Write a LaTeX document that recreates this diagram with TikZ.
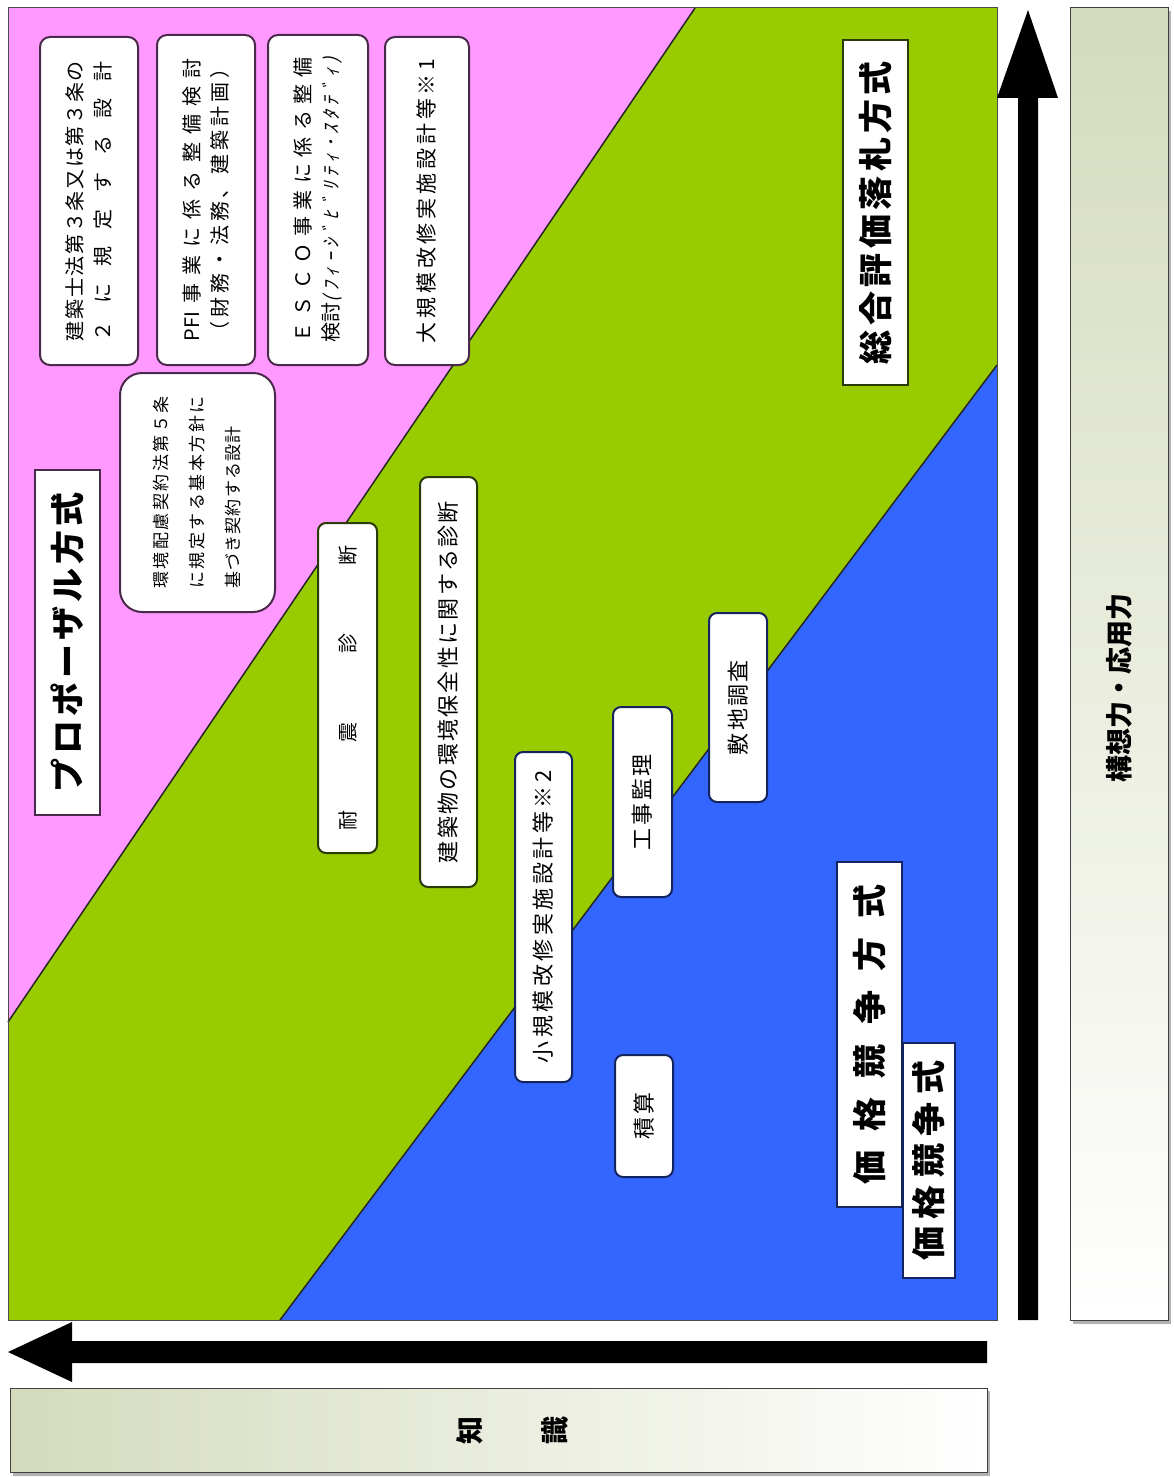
\documentclass[tikz,border=0pt]{standalone}
\usepackage{fontspec}
\setmainfont{Noto Sans CJK JP}
\newfontfamily\cjkslant[FakeSlant=0.25,LetterSpace=25]{Noto Sans CJK JP}
\definecolor{pinkbg}{HTML}{FF99FF}
\definecolor{greenbg}{HTML}{99CC00}
\definecolor{bluebg}{HTML}{3366FF}
\definecolor{pinkdk}{HTML}{4A2A4A}
\definecolor{greendk}{HTML}{2A3A08}
\definecolor{bluedk}{HTML}{14245E}
\definecolor{olive}{RGB}{212,219,188}
\makeatletter
\def\spreadchars#1{\spread@loop#1\spread@end}
\def\spread@loop#1#2\spread@end{#1\if\relax\detokenize{#2}\relax\else\hfil\spread@loop#2\spread@end\fi}
\makeatother
\newcommand\jline[2]{\makebox[#1][s]{\spreadchars{#2}}}
\tikzset{
  rbox/.style={draw=#1, line width=2pt, fill=white, rounded corners=10pt, rotate=90,
    inner sep=0pt, align=center, font=\fontsize{20}{28}\selectfont},
  lbox/.style={draw=#1, line width=1.5pt, fill=white, rotate=90,
    inner sep=0pt, align=center, font=\bfseries\fontsize{34}{40}\selectfont},
  bigarrow/.style={fill=black},
  gbox/.style={draw=black!75, line width=1pt},
  gshadow/.style={fill=black!30}
}
\begin{document}
\begin{tikzpicture}[x=1pt,y=-1pt]
\useasboundingbox (0,0) rectangle (1173,1477);
\fill[white] (0,0) rectangle (1173,1477);
% background regions
\fill[pinkbg] (8,8) rectangle (997,1320);
\fill[greenbg] (695,8) -- (997,8) -- (997,365) -- (280,1320) -- (8,1320) -- (8,1022) -- cycle;
\fill[bluebg] (997,365) -- (997,1320) -- (280,1320) -- cycle;
\draw[line width=1.5pt, black!85] (695,8) -- (8,1022);
\draw[line width=1.5pt, black!85] (997,365) -- (280,1320);
\draw[line width=1pt, black!70] (8,8) rectangle (997,1320);

% arrows
\fill[bigarrow] (1018,1320) -- (1018,98) -- (997,98) -- (1028,10) -- (1058,98) -- (1038,98) -- (1038,1320) -- cycle;
\fill[bigarrow] (987,1341) -- (72,1341) -- (72,1322) -- (8,1352) -- (72,1382) -- (72,1363) -- (987,1363) -- cycle;

% gradient label boxes
\fill[gshadow] (1073,11) rectangle (1171,1324);
\shade[top color=olive, bottom color=white] (1070,8) rectangle (1168,1320);
\draw[gbox] (1070,8) rectangle (1168,1320);
\node[rotate=90, font=\bfseries\fontsize{27}{30}\selectfont] (kousou) at (1119,688) {構想力・応用力};

\fill[gshadow] (13,1391) rectangle (990,1476);
\shade[left color=olive, right color=white] (10,1388) rectangle (987,1472);
\draw[gbox] (10,1388) rectangle (987,1472);
\node[rotate=90, align=center, font=\bfseries\fontsize{28}{85}\selectfont] (chishiki) at (512,1430) {知\\識};

% pink region boxes
\node[rbox=pinkdk, minimum width=328pt, minimum height=98pt] (b1) at (89,201)
  {\jline{280pt}{建築士法第３条又は第３条の}\\\jline{280pt}{２に規定する設計}};
\node[rbox=pinkdk, minimum width=330pt, minimum height=98pt] (b2) at (206,200)
  {\jline{283pt}{{PFI}事業に係る整備検討}\\\jline{283pt}{（財務・法務、建築計画）}};
\node[rbox=pinkdk, minimum width=330pt, minimum height=100pt] (b3) at (318,200)
  {\jline{285pt}{ＥＳＣＯ事業に係る整備}\\\makebox[285pt][s]{検\hfil 討\hfil\hfil{\cjkslant\fontsize{19}{28}\selectfont (ﾌｨｰｼﾞﾋﾞﾘﾃｨ･ｽﾀﾃﾞｨ)}}};
\node[rbox=pinkdk, minimum width=328pt, minimum height=84pt, font=\fontsize{21}{28}\selectfont] (b4) at (427,201)
  {\jline{285pt}{大規模改修実施設計等※1}};
\node[rbox=pinkdk, rounded corners=22pt, minimum width=239pt, minimum height=155pt, font=\fontsize{17}{36}\selectfont] (b5) at (197.5,492.5)
  {\makebox[192pt][l]{\jline{192pt}{環境配慮契約法第５条}}\\\makebox[192pt][l]{\jline{192pt}{に規定する基本方針に}}\\\makebox[192pt][l]{\jline{162pt}{基づき契約する設計}}};

% big method labels
\node[lbox=pinkdk, minimum width=345pt, minimum height=65pt] (prop) at (67.5,642.5)
  {\jline{300pt}{プロポーザル方式}};
\node[lbox=greendk, minimum width=345pt, minimum height=65pt] (sougou) at (875.5,212.5)
  {\jline{303pt}{総合評価落札方式}};
\node[lbox=bluedk, minimum width=345pt, minimum height=65pt] (kakaku) at (869.5,1034.5)
  {\jline{300pt}{価格競争方式}};
\node[lbox=bluedk, minimum width=235pt, minimum height=52pt] (kakaku2) at (929,1160.5)
  {\jline{200pt}{価格競争式}};

% green / blue region boxes
\node[rbox=greendk, rounded corners=8pt, minimum width=330pt, minimum height=59pt] (b6) at (347.5,688)
  {\jline{285pt}{耐震診断}};
\node[rbox=greendk, rounded corners=8pt, minimum width=410pt, minimum height=57pt, font=\fontsize{22}{28}\selectfont] (b7) at (448.5,682)
  {\jline{362pt}{建築物の環境保全性に関する診断}};
\node[rbox=bluedk, rounded corners=8pt, minimum width=330pt, minimum height=57pt, font=\fontsize{22}{28}\selectfont] (b8) at (543.5,917)
  {\jline{293pt}{小規模改修実施設計等※2}};
\node[rbox=bluedk, rounded corners=8pt, minimum width=190pt, minimum height=59pt, font=\fontsize{22}{28}\selectfont] (b9) at (642.5,802)
  {\jline{96pt}{工事監理}};
\node[rbox=bluedk, rounded corners=8pt, minimum width=189pt, minimum height=58pt, font=\fontsize{22}{28}\selectfont] (b10) at (738,707.5)
  {\jline{95pt}{敷地調査}};
\node[rbox=bluedk, rounded corners=8pt, minimum width=122pt, minimum height=58pt, font=\fontsize{22}{28}\selectfont] (b11) at (644,1116)
  {\jline{47pt}{積算}};
\end{tikzpicture}
\end{document}
